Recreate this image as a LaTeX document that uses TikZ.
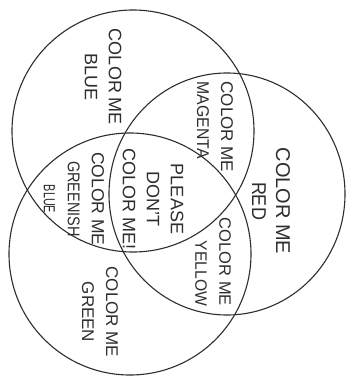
\documentclass[tikz,border=0pt]{standalone}
\usepackage{fontspec}
\usetikzlibrary{shapes.geometric}
\setmainfont{Liberation Sans}
\definecolor{ink}{HTML}{2E2E2E}
\newcommand{\fs}[1]{\fontsize{#1}{24}\selectfont}
\newcommand{\sq}[2]{\scalebox{#1}[1]{#2}}
\begin{document}
\begin{tikzpicture}[x=1pt,y=-1pt,
  ring/.style={ellipse,draw=ink,line width=1.1pt,inner sep=0pt,outer sep=0pt},
  lbl/.style={text=ink,rotate=-90,align=center,inner sep=0pt,font=\fs{18}}]
\useasboundingbox (0,0) rectangle (350,378);
\fill[white] (0,0) rectangle (350,378);
\node[ring,minimum width=242pt,minimum height=242pt] (A) at (133,131) {};
\node[ring,minimum width=242pt,minimum height=242pt] (B) at (130,254) {};
\node[ring,minimum width=236pt,minimum height=242pt] (C) at (227,194) {};
\node[lbl] (blue) at (103,77) {COLOR ME\\BLUE};
\node[lbl,align=left] (magenta) at (215,127) {\fs{17}COLOR ME\\\fs{17}\sq{0.93}{MAGENTA}};
\node[lbl,font=\fs{20}] (red) at (271,201) {COLOR ME\\\sq{0.9}{RED}};
\node[lbl] (center) at (153,199) {PLEASE\\DON'T\\COLOR ME!};
\node[lbl] (greenish) at (74,199) {\fs{17.5}COLOR ME\\\fs{17}\sq{0.85}{GREENISH}\\\fs{16}\sq{0.68}{BLUE}};
\node[lbl,align=right] (yellow) at (213,262) {\fs{16.5}COLOR ME\\\fs{16.5}\sq{0.95}{YELLOW}};
\node[lbl,font=\fs{17}] (green) at (100,312) {COLOR ME\\GREEN};
\end{tikzpicture}
\end{document}
